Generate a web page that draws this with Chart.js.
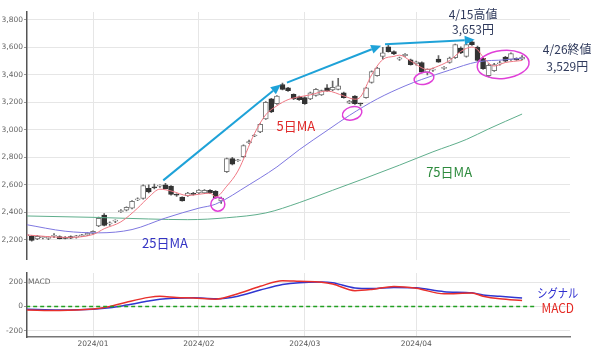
<!DOCTYPE html>
<html>
<head>
<meta charset="utf-8">
<script src="https://cdn.jsdelivr.net/npm/chart.js@4.4.1/dist/chart.umd.min.js"></script>
<style>
html, body { margin: 0; padding: 0; background: #fff; }
#wrap { position: relative; width: 600px; height: 353px; }
#main { position: absolute; left: 0; top: 0; }
#sub { position: absolute; left: 0; top: 265px; }
</style>
</head>
<body>
<div id="wrap">
  <canvas id="main" width="600" height="265"></canvas>
  <canvas id="sub" width="600" height="88"></canvas>
</div>
<script>
// trading days (Dec 2023 - Apr 2024)
const dates = [
  '2023-12-14','2023-12-15','2023-12-18','2023-12-19','2023-12-20','2023-12-21','2023-12-22','2023-12-25','2023-12-26','2023-12-27','2023-12-28','2023-12-29',
  '2024-01-04','2024-01-05','2024-01-09','2024-01-10','2024-01-11','2024-01-12','2024-01-15','2024-01-16','2024-01-17','2024-01-18','2024-01-19','2024-01-22','2024-01-23','2024-01-24','2024-01-25','2024-01-26','2024-01-29','2024-01-30','2024-01-31',
  '2024-02-01','2024-02-02','2024-02-05','2024-02-06','2024-02-07','2024-02-08','2024-02-09','2024-02-13','2024-02-14','2024-02-15','2024-02-16','2024-02-19','2024-02-20','2024-02-21','2024-02-22','2024-02-26','2024-02-27','2024-02-28','2024-02-29',
  '2024-03-01','2024-03-04','2024-03-05','2024-03-06','2024-03-07','2024-03-08','2024-03-11','2024-03-12','2024-03-13','2024-03-14','2024-03-15','2024-03-18','2024-03-19','2024-03-21','2024-03-22','2024-03-25','2024-03-26','2024-03-27','2024-03-28','2024-03-29',
  '2024-04-01','2024-04-02','2024-04-03','2024-04-04','2024-04-05','2024-04-08','2024-04-09','2024-04-10','2024-04-11','2024-04-12','2024-04-15','2024-04-16','2024-04-17','2024-04-18','2024-04-19','2024-04-22','2024-04-23','2024-04-24','2024-04-25','2024-04-26'
];

const opens  = [2230,2225,2205,2215,2210,2225,2222,2215,2222,2218,2226,2234, 2245,2300,2380,2315,2335,2405,2415,2430,2490,2500,2575,2585,2590,2600,2590,2530,2510,2520,2535, 2540,2540,2560,2553,2482,2695,2790,2775,2805,2905,2955,2985,3080,3225,3190,3330,3305,3258,3240, 3235,3225,3250,3255,3305,3290,3295,3270,3195,3245,3190,3235,3345,3395,3535,3605,3570,3515,3540,3510, 3480,3490,3420,3435,3515,3448,3490,3525,3595,3535,3640,3600,3520,3395,3430,3480,3530,3512,3520,3515];
const highs  = [2240,2232,2232,2225,2222,2245,2228,2222,2228,2232,2240,2252, 2265,2365,2390,2330,2345,2420,2440,2485,2505,2600,2600,2605,2600,2610,2595,2535,2512,2545,2545, 2565,2565,2565,2558,2510,2795,2800,2785,2890,2925,2965,3045,3205,3230,3250,3340,3310,3262,3245, 3240,3275,3300,3290,3330,3355,3375,3275,3215,3250,3195,3310,3430,3455,3600,3615,3575,3530,3555,3515, 3500,3495,3445,3450,3540,3460,3530,3625,3605,3625,3653,3610,3525,3480,3485,3500,3535,3560,3525,3540];
const lows   = [2215,2190,2200,2205,2200,2215,2205,2205,2208,2212,2222,2230, 2240,2295,2300,2305,2325,2398,2410,2425,2485,2495,2540,2570,2580,2570,2525,2515,2480,2515,2525, 2535,2535,2535,2500,2465,2690,2745,2770,2800,2900,2950,2980,3075,3125,3185,3290,3280,3220,3215, 3185,3220,3245,3250,3280,3285,3290,3230,3190,3185,3175,3230,3340,3390,3515,3565,3548,3505,3535,3470, 3470,3415,3400,3425,3490,3440,3485,3520,3555,3530,3615,3500,3440,3385,3425,3470,3495,3505,3505,3510];
const closes = [2235,2195,2225,2220,2218,2228,2208,2210,2212,2228,2236,2248, 2262,2355,2305,2320,2338,2412,2435,2480,2498,2595,2548,2578,2595,2572,2530,2525,2483,2540,2530, 2562,2560,2540,2505,2503,2790,2750,2780,2885,2915,2960,3040,3200,3130,3245,3295,3285,3225,3220, 3190,3270,3295,3285,3285,3310,3320,3235,3210,3190,3188,3305,3425,3450,3560,3570,3552,3525,3550,3475, 3495,3420,3440,3440,3492,3455,3523,3620,3560,3620,3620,3505,3445,3470,3475,3485,3500,3555,3510,3529];

// moving averages (day index, value)
const ma5Days  = [0,7,12,14,17,20,22,24,26,29,31,33,34,36,38,41,43,45,47,49,51,54,57,59,60,62,64,66,67,69,72,74,76,78,80,81,82,84,86,89];
const ma5Vals  = [2235,2217,2238,2280,2330,2430,2510,2568,2555,2522,2531,2539,2512,2590,2700,2975,3110,3175,3220,3240,3255,3283,3247,3223,3240,3400,3512,3535,3544,3502,3440,3465,3505,3571,3603,3584,3530,3465,3490,3505];
const ma25Days = [0,7,13,19,25,31,34,40,42,45,49,54,58,63,68,71,76,81,86,89];
const ma25Vals = [2310,2262,2250,2274,2358,2430,2459,2600,2650,2730,2855,2995,3105,3225,3320,3367,3435,3495,3510,3522];
const ma75Days = [0,12,22,29,36,43,49,55,61,67,73,79,83,89];
const ma75Vals = [2373,2363,2351,2346,2360,2395,2470,2560,2650,2743,2840,2930,3007,3115];

// MACD panel
const macdDays   = [0,6,12,15,18,22,24,27,30,34,38,42,46,49,53,55,59,62,66,70,75,80,82,85,89];
const macdVals   = [-28,-32,-20,0,35,75,84,74,70,60,105,166,212,207,200,185,130,140,165,150,104,110,85,63,49];
const signalVals = [-22,-28,-22,-10,12,45,60,68,71,63,85,135,180,196,201,195,152,147,157,153,122,112,95,84,70];

const monthLabels = ['2024/01','2024/02','2024/03','2024/04'];
const priceTicks = [2200,2400,2600,2800,3000,3200,3400,3600,3800];
const macdTicks = [-200,0,200];

const monthIdx = monthLabels.map(m => dates.findIndex(d => d.startsWith(m.replace('/', '-'))));
const pts = (days, vals) => days.map((d, k) => ({x: d, y: vals[k]}));
const up = i => closes[i] >= opens[i];

const X_MIN = 0.15, X_MAX = 97.6;
const tickFont = {family: "'DejaVu Sans'", size: 7.5};
const jp = "'Noto Sans CJK JP'";

function label(ctx, s, x, y, color, size, sx) {
    ctx.save();
    ctx.translate(x, y);
    ctx.scale(sx || 1, 1);
    ctx.font = size + 'px ' + jp;
    ctx.fillStyle = color;
    ctx.textAlign = 'center';
    ctx.textBaseline = 'middle';
    ctx.fillText(s, 0, 0);
    ctx.restore();
}

function arrow(ctx, x1, y1, x2, y2) {
    const a = Math.atan2(y2 - y1, x2 - x1);
    const len = 10, w = 4.5;
    const bx = x2 - len * Math.cos(a), by = y2 - len * Math.sin(a);
    ctx.beginPath();
    ctx.moveTo(x1, y1);
    ctx.lineTo(bx, by);
    ctx.stroke();
    ctx.beginPath();
    ctx.moveTo(x2, y2);
    ctx.lineTo(bx + w * Math.sin(a), by - w * Math.cos(a));
    ctx.lineTo(bx - w * Math.sin(a), by + w * Math.cos(a));
    ctx.closePath();
    ctx.fill();
}

// annotations in data coordinates
const arrows = [
    [24.6, 2632, 45.7, 3331],
    [46.8, 3344, 63.7, 3613],
    [64.4, 3623, 80.5, 3656]
];
const rings = [
    [34.4, 2459, 7, 7, 0],
    [58.5, 3120, 10, 6.5, -0.3],
    [71.4, 3375, 10, 6, -0.2],
    [85.6, 3476, 26, 14, -0.1]
];
const notes = [
    ['4/15高値', 80.2, 3843, '#2f3a5c'],
    ['3,653円', 80.2, 3728, '#2f3a5c'],
    ['4/26終値', 97.1, 3584, '#2f3a5c'],
    ['3,529円', 97.1, 3461, '#2f3a5c'],
    ['5日MA', 48.4, 3029, '#e02a2a'],
    ['25日MA', 24.9, 2178, '#3434c4'],
    ['75日MA', 75.9, 2690, '#2e8b3e']
];

const mainNotes = {
    id: 'mainNotes',
    afterDatasetsDraw(chart) {
        const ctx = chart.ctx, xs = chart.scales.x, ys = chart.scales.y;
        ctx.save();
        ctx.strokeStyle = '#1ea2d8';
        ctx.fillStyle = '#1ea2d8';
        ctx.lineWidth = 2;
        arrows.forEach(a => arrow(ctx, xs.getPixelForValue(a[0]), ys.getPixelForValue(a[1]),
                                       xs.getPixelForValue(a[2]), ys.getPixelForValue(a[3])));
        ctx.strokeStyle = '#e040d8';
        ctx.lineWidth = 1.5;
        rings.forEach(r => {
            ctx.beginPath();
            ctx.ellipse(xs.getPixelForValue(r[0]), ys.getPixelForValue(r[1]), r[2], r[3], r[4], 0, Math.PI * 2);
            ctx.stroke();
        });
        notes.forEach(n => label(ctx, n[0], xs.getPixelForValue(n[1]), ys.getPixelForValue(n[2]), n[3], n[0].includes('MA') ? 13 : 12, 1));
        ctx.restore();
    }
};

new Chart(document.getElementById('main'), {
    type: 'bar',
    data: {
        datasets: [
            {
                type: 'line', data: pts(ma5Days, ma5Vals), borderColor: '#f07884', borderWidth: 1,
                pointRadius: 0, cubicInterpolationMode: 'monotone', order: 1
            },
            {
                type: 'line', data: pts(ma25Days, ma25Vals), borderColor: '#7f78e0', borderWidth: 1,
                pointRadius: 0, cubicInterpolationMode: 'monotone', order: 1
            },
            {
                type: 'line', data: pts(ma75Days, ma75Vals), borderColor: '#5fae8c', borderWidth: 1,
                pointRadius: 0, cubicInterpolationMode: 'monotone', order: 1
            },
            {
                // wicks
                data: dates.map((d, i) => ({x: i, y: [lows[i], highs[i]]})),
                backgroundColor: '#666', barThickness: 1, grouped: false, order: 3
            },
            {
                // bodies
                data: dates.map((d, i) => ({x: i, y: [opens[i], closes[i]]})),
                backgroundColor: c => up(c.dataIndex) ? '#fff' : '#333',
                borderColor: c => up(c.dataIndex) ? '#777' : '#333',
                borderWidth: 1, borderSkipped: false, barThickness: 5, minBarLength: 1,
                grouped: false, order: 2
            }
        ]
    },
    options: {
        responsive: false,
        animation: false,
        layout: {padding: {left: 0, right: 30, top: 12, bottom: 3}},
        plugins: {legend: {display: false}, tooltip: {enabled: false}},
        scales: {
            x: {
                type: 'linear', min: X_MIN, max: X_MAX, offset: false,
                afterBuildTicks: s => { s.ticks = monthIdx.map(v => ({value: v})); },
                afterFit: s => { s.height = 0; },
                ticks: {display: false},
                grid: {color: '#e6e6e6', drawTicks: false, offset: false},
                border: {display: false}
            },
            y: {
                min: 2056, max: 3858,
                afterBuildTicks: s => { s.ticks = priceTicks.map(v => ({value: v})); },
                afterFit: s => { s.width = 27; },
                ticks: {callback: v => v.toLocaleString('en-US'), font: tickFont, color: '#666', padding: 1, autoSkip: false},
                grid: {color: '#e6e6e6', tickLength: 3, tickColor: '#999'},
                border: {color: '#555', width: 1.5}
            }
        }
    },
    plugins: [mainNotes]
});

const subNotes = {
    id: 'subNotes',
    afterDatasetsDraw(chart) {
        const ctx = chart.ctx, xs = chart.scales.x, ys = chart.scales.y;
        ctx.save();
        ctx.font = "7.5px 'DejaVu Sans'";
        ctx.fillStyle = '#666';
        ctx.textAlign = 'left';
        ctx.textBaseline = 'middle';
        ctx.fillText('MACD', chart.chartArea.left + 1, ys.getPixelForValue(200));
        label(ctx, 'シグナル', xs.getPixelForValue(95.4), ys.getPixelForValue(111), '#2f2fd0', 12.5, 0.82);
        label(ctx, 'MACD', xs.getPixelForValue(95.4), ys.getPixelForValue(-12), '#e42a24', 12.5, 0.95);
        ctx.restore();
    }
};

new Chart(document.getElementById('sub'), {
    type: 'line',
    data: {
        datasets: [
            {
                data: [{x: 0, y: 0}, {x: 91.3, y: 0}], borderColor: '#22a022', borderWidth: 1.5,
                borderDash: [4, 3], pointRadius: 0
            },
            {
                data: pts(macdDays, macdVals), borderColor: '#e8302c', borderWidth: 1.5,
                pointRadius: 0, cubicInterpolationMode: 'monotone'
            },
            {
                data: pts(macdDays, signalVals), borderColor: '#3036d0', borderWidth: 1.5,
                pointRadius: 0, cubicInterpolationMode: 'monotone'
            }
        ]
    },
    options: {
        responsive: false,
        animation: false,
        layout: {padding: {left: 0, right: 30, top: 8, bottom: 0}},
        plugins: {legend: {display: false}, tooltip: {enabled: false}},
        scales: {
            x: {
                type: 'linear', min: X_MIN, max: X_MAX,
                afterBuildTicks: s => { s.ticks = monthIdx.map(v => ({value: v})); },
                afterFit: s => { s.height = 16; },
                ticks: {
                    callback: v => monthLabels[monthIdx.indexOf(v)] || '',
                    font: tickFont, color: '#555', padding: 3, autoSkip: false, maxRotation: 0
                },
                grid: {color: '#e6e6e6', drawTicks: false},
                border: {color: '#777', width: 1.5}
            },
            y: {
                min: -250, max: 275,
                afterBuildTicks: s => { s.ticks = macdTicks.map(v => ({value: v})); },
                afterFit: s => { s.width = 27; },
                ticks: {font: tickFont, color: '#666', padding: 1, autoSkip: false},
                grid: {color: '#e6e6e6', tickLength: 3, tickColor: '#999'},
                border: {color: '#555', width: 1.5}
            }
        }
    },
    plugins: [subNotes]
});
</script>
</body>
</html>
